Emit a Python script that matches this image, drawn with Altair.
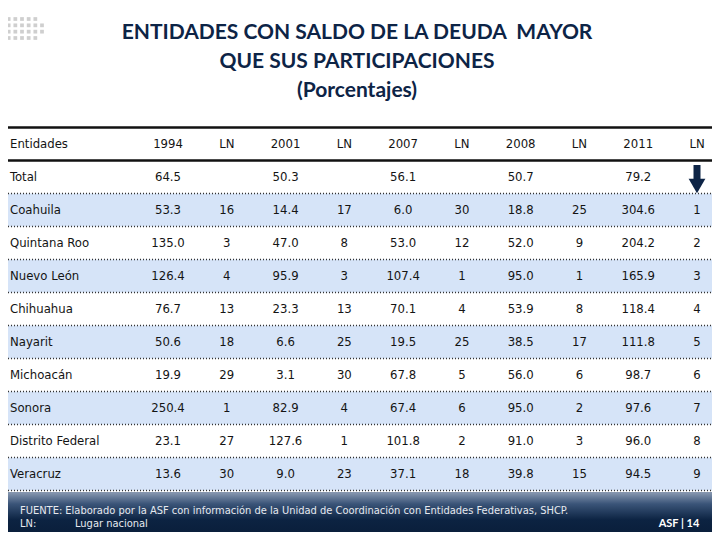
import altair as alt
import pandas as pd

# ---------------- data ----------------
title_lines = ["ENTIDADES CON SALDO DE LA DEUDA\u00a0 MAYOR", "QUE SUS PARTICIPACIONES", "(Porcentajes)"]
header = ["1994", "LN", "2001", "LN", "2007", "LN", "2008", "LN", "2011", "LN"]
totals = [64.5, 50.3, 56.1, 50.7, 79.2]
states = ["Coahuila", "Quintana Roo", "Nuevo León", "Chihuahua", "Nayarit",
          "Michoacán", "Sonora", "Distrito Federal", "Veracruz"]
v1994 = [53.3, 135.0, 126.4, 76.7, 50.6, 19.9, 250.4, 23.1, 13.6]
ln1994 = [16, 3, 4, 13, 18, 29, 1, 27, 30]
v2001 = [14.4, 47.0, 95.9, 23.3, 6.6, 3.1, 82.9, 127.6, 9.0]
ln2001 = [17, 8, 3, 13, 25, 30, 4, 1, 23]
v2007 = [6.0, 53.0, 107.4, 70.1, 19.5, 67.8, 67.4, 101.8, 37.1]
ln2007 = [30, 12, 1, 4, 25, 5, 6, 2, 18]
v2008 = [18.8, 52.0, 95.0, 53.9, 38.5, 56.0, 95.0, 91.0, 39.8]
ln2008 = [25, 9, 1, 8, 17, 6, 2, 3, 15]
v2011 = [304.6, 204.2, 165.9, 118.4, 111.8, 98.7, 97.6, 96.0, 94.5]
ln2011 = [1, 2, 3, 4, 5, 6, 7, 8, 9]
footnote_src = "FUENTE:  Elaborado por la ASF con información de la Unidad de Coordinación con Entidades Federativas, SHCP."
footnote_ln = ["LN:", "Lugar nacional"]
page_label = "ASF | 14"

# ---------------- tables ----------------
cells = []
for c, h in enumerate(header, start=1):
    cells.append({"row": 0, "col": c, "text": h})
for k, t in enumerate(totals):
    cells.append({"row": 1, "col": 1 + 2 * k, "text": f"{t:.1f}"})
series = [(v1994, ln1994), (v2001, ln2001), (v2007, ln2007), (v2008, ln2008), (v2011, ln2011)]
for i in range(len(states)):
    for k, (vals, lns) in enumerate(series):
        cells.append({"row": 2 + i, "col": 1 + 2 * k, "text": f"{vals[i]:.1f}"})
        cells.append({"row": 2 + i, "col": 2 + 2 * k, "text": str(lns[i])})
cells = pd.DataFrame(cells)

names = pd.DataFrame({"row": list(range(len(states) + 2)),
                      "label": ["Entidades", "Total"] + states})
bands = pd.DataFrame({"row": [r for r in range(2, len(states) + 2) if r % 2 == 0]})
bands["y0"] = bands["row"] - 0.5
bands["y1"] = bands["row"] + 0.5
solid = pd.DataFrame({"y": [-0.5, 0.5]})
dotted = pd.DataFrame({"y": [r + 0.5 for r in range(1, len(states) + 2)]})
arrow = pd.DataFrame({"col": [10]})
icon = pd.DataFrame([{"i": i, "j": j} for j in range(4) for i in range(7 if j in (1, 2) else 6)])

W, H = 704, 524
FONT = "Liberation Sans Narrow, DejaVu Sans Condensed, Roboto, sans-serif"
TXT = "#141414"
NAVY = "#0d2446"

xs = alt.Scale(domain=[1, 10], range=[160, 689])
ys = alt.Scale(domain=[0, 10], range=[136, 466])

bg_bands = alt.Chart(bands).mark_rect(color="#d6e4f8").encode(
    x=alt.value(0), x2=alt.value(706),
    y=alt.Y("y0:Q", scale=ys, axis=None), y2="y1:Q")

rule_solid = alt.Chart(solid).mark_rule(color="#111111", strokeWidth=2.5).encode(
    x=alt.value(0), x2=alt.value(708), y=alt.Y("y:Q", scale=ys, axis=None))
rule_dot = alt.Chart(dotted).mark_rule(color="#333333", strokeWidth=1.5, strokeDash=[1, 2]).encode(
    x=alt.value(0), x2=alt.value(706), y=alt.Y("y:Q", scale=ys, axis=None))

cell_text = alt.Chart(cells).mark_text(font=FONT, fontSize=13, color=TXT, align="center",
                                        baseline="middle").encode(
    x=alt.X("col:Q", scale=xs, axis=None), y=alt.Y("row:Q", scale=ys, axis=None), text="text:N")
name_text = alt.Chart(names).mark_text(font=FONT, fontSize=13, color=TXT, align="left",
                                        baseline="middle").encode(
    x=alt.value(2), y=alt.Y("row:Q", scale=ys, axis=None), text="label:N")

arrow_shaft = alt.Chart(arrow).mark_rule(color=NAVY, strokeWidth=7).encode(
    x=alt.X("col:Q", scale=xs, axis=None), y=alt.value(157), y2=alt.value(173))
arrow_head = alt.Chart(arrow).mark_point(shape="triangle-down", filled=True, color=NAVY,
                                         opacity=1, size=280).encode(
    x=alt.X("col:Q", scale=xs, axis=None), y=alt.value(178))

title_layers = [
    alt.Chart(pd.DataFrame({"t": [line]})).mark_text(
        font="Lato", fontSize=21, fontWeight="bold", color=NAVY, align="center", baseline="middle"
    ).encode(x=alt.value(349), y=alt.value(25 + 29 * k), text="t:N")
    for k, line in enumerate(title_lines)
]

icon_layer = alt.Chart(icon).mark_square(color="#cfcfcf", size=14, opacity=1).encode(
    x=alt.X("i:Q", scale=alt.Scale(domain=[0, 6], range=[-6, 34]), axis=None),
    y=alt.Y("j:Q", scale=alt.Scale(domain=[0, 3], range=[11, 30]), axis=None))

footer = alt.Chart(pd.DataFrame({"a": [0]})).mark_rect(
    color=alt.Gradient(gradient="linear", x1=0, y1=0, x2=0, y2=1,
                       stops=[alt.GradientStop(color="#8a9ab2", offset=0),
                              alt.GradientStop(color="#3a5478", offset=0.3),
                              alt.GradientStop(color="#0c2342", offset=0.7),
                              alt.GradientStop(color="#0a1f3c", offset=1)])
).encode(x=alt.value(-8), x2=alt.value(712), y=alt.value(484), y2=alt.value(H))

foot_text = [
    alt.Chart(pd.DataFrame({"t": [footnote_src]})).mark_text(
        font=FONT, fontSize=11, color="#e6e9ef", align="left", baseline="middle"
    ).encode(x=alt.value(12), y=alt.value(503), text="t:N"),
    alt.Chart(pd.DataFrame({"t": [footnote_ln[0]]})).mark_text(
        font=FONT, fontSize=11, color="#e6e9ef", align="left", baseline="middle"
    ).encode(x=alt.value(12), y=alt.value(516), text="t:N"),
    alt.Chart(pd.DataFrame({"t": [footnote_ln[1]]})).mark_text(
        font=FONT, fontSize=11, color="#e6e9ef", align="left", baseline="middle"
    ).encode(x=alt.value(67), y=alt.value(516), text="t:N"),
    alt.Chart(pd.DataFrame({"t": [page_label]})).mark_text(
        font="Lato", fontSize=11, fontWeight="bold", color="#ffffff", align="center", baseline="middle"
    ).encode(x=alt.value(671), y=alt.value(516), text="t:N"),
]

chart = alt.layer(
    bg_bands, rule_dot, rule_solid, icon_layer, *title_layers, cell_text, name_text,
    arrow_shaft, arrow_head, footer, *foot_text
).resolve_scale(x="independent", y="independent").properties(
    width=W, height=H, padding=0, autosize=alt.AutoSizeParams(type="none")
).configure_view(stroke=None)

chart.save("out.html", embed_options={"renderer": "svg", "actions": False})
